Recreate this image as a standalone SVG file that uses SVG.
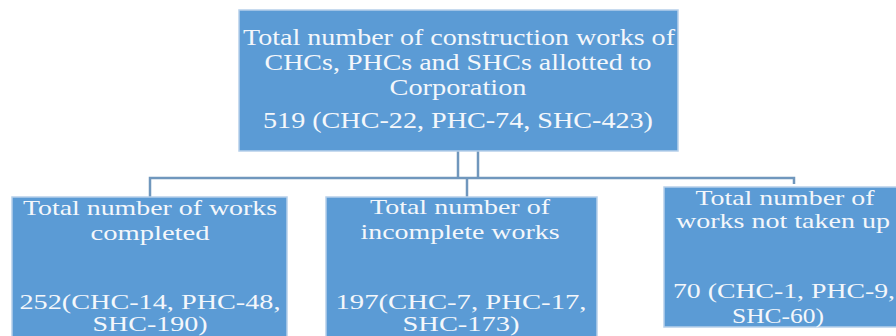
<svg xmlns="http://www.w3.org/2000/svg" width="896" height="336" viewBox="0 0 896 336">
<style>
.box{fill:#5b9bd5;stroke:#b7d0ea;stroke-width:1.5}
.t{font-family:"Liberation Serif","DejaVu Serif",serif;fill:#f4f7fb;text-anchor:middle}
.big{font-size:23px}
.sm{font-size:21px}
.c{fill:none;stroke:#7097bd;stroke-width:2.5}
</style>
<rect width="896" height="336" fill="#ffffff"/>
<g id="connectors">
<path class="c" d="M458 151V178M478 151V178"/>
<path class="c" d="M150 197V178H794V184"/>
<path class="c" d="M467 178V197"/>
</g>
<g id="top">
<rect class="box" x="239" y="10" width="439" height="141"/>
<text class="t big" x="459" y="45" textLength="432" lengthAdjust="spacingAndGlyphs">Total number of construction works of</text>
<text class="t big" x="458" y="70" textLength="387" lengthAdjust="spacingAndGlyphs">CHCs, PHCs and SHCs allotted to</text>
<text class="t big" x="458" y="95" textLength="137" lengthAdjust="spacingAndGlyphs">Corporation</text>
<text class="t big" x="458" y="128" textLength="390" lengthAdjust="spacingAndGlyphs">519 (CHC-22, PHC-74, SHC-423)</text>
</g>
<g id="completed">
<rect class="box" x="12" y="197" width="275" height="145"/>
<text class="t sm" x="150" y="215" textLength="254" lengthAdjust="spacingAndGlyphs">Total number of works</text>
<text class="t sm" x="150" y="240" textLength="119" lengthAdjust="spacingAndGlyphs">completed</text>
<text class="t sm" x="150" y="309" textLength="261" lengthAdjust="spacingAndGlyphs">252(CHC-14, PHC-48,</text>
<text class="t sm" x="150" y="331" textLength="115" lengthAdjust="spacingAndGlyphs">SHC-190)</text>
</g>
<g id="incomplete">
<rect class="box" x="326" y="197" width="271" height="145"/>
<text class="t sm" x="460" y="214" textLength="180" lengthAdjust="spacingAndGlyphs">Total number of</text>
<text class="t sm" x="460" y="239" textLength="199" lengthAdjust="spacingAndGlyphs">incomplete works</text>
<text class="t sm" x="461" y="309" textLength="251" lengthAdjust="spacingAndGlyphs">197(CHC-7, PHC-17,</text>
<text class="t sm" x="461" y="331" textLength="117" lengthAdjust="spacingAndGlyphs">SHC-173)</text>
</g>
<g id="nottaken">
<rect class="box" x="664" y="187" width="240" height="140"/>
<text class="t sm" x="785" y="205" textLength="179" lengthAdjust="spacingAndGlyphs">Total number of</text>
<text class="t sm" x="783" y="228" textLength="214" lengthAdjust="spacingAndGlyphs">works not taken up</text>
<text class="t sm" x="784" y="298" textLength="222" lengthAdjust="spacingAndGlyphs">70 (CHC-1, PHC-9,</text>
<text class="t sm" x="778" y="323" textLength="92" lengthAdjust="spacingAndGlyphs">SHC-60)</text>
</g>
</svg>
